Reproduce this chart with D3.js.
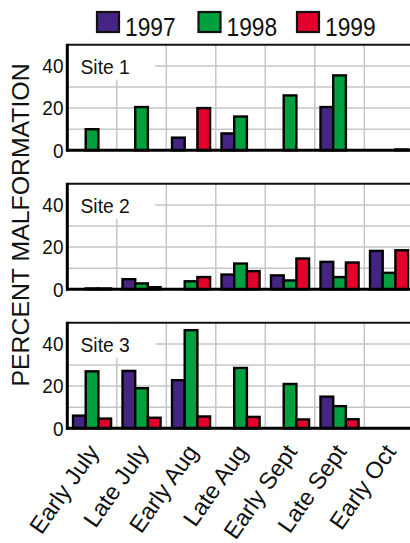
<!DOCTYPE html>
<html><head><meta charset="utf-8">
<script src="https://cdn.jsdelivr.net/npm/d3@7"></script>
<style>body{margin:0;background:#fff}svg{display:block}</style>
</head><body>
<script>
const categories = ["Early July","Late July","Early Aug","Late Aug","Early Sept","Late Sept","Early Oct"];
const years = ["1997","1998","1999"];
const sites = ["Site 1","Site 2","Site 3"];
const site1_1997 = [0, 0, 6, 8, 0, 20.5, 0];
const site1_1998 = [10, 20.5, 0, 16, 26, 35.5, 0];
const site1_1999 = [0, 0, 20, 0, 0, 0, 0.4];
const site2_1997 = [0, 4.8, 0, 7, 6.6, 13, 18.2];
const site2_1998 = [0.4, 2.8, 3.8, 12.2, 4.2, 5.8, 7.8];
const site2_1999 = [0.4, 1, 5.8, 8.6, 14.6, 12.7, 18.5];
const site3_1997 = [6, 27.2, 22.8, 0, 0, 15, 0];
const site3_1998 = [27, 19, 46.5, 28.6, 21, 10.5, 0];
const site3_1999 = [4.6, 5, 5.6, 5.4, 4.2, 4.3, 0];
const yTicks = [0, 20, 40];
const gridTicks = [10, 20, 30, 40];
const colors = ["#452483", "#00a03f", "#e3002b"];

const siteData = [
  [site1_1997, site1_1998, site1_1999],
  [site2_1997, site2_1998, site2_1999],
  [site3_1997, site3_1998, site3_1999]
];

const W = 410, H = 543;
const svg = d3.select("body").append("svg").attr("width", W).attr("height", H);
const font = "Liberation Sans, Arial, Helvetica, sans-serif";

const x0 = 67.3, x1 = 67.3 + 7 * 49.5;
const x = d3.scaleBand().domain(categories).range([x0, x1]).paddingInner(0).paddingOuter(0);
const xi = d3.scaleBand().domain(years).range([0, x.bandwidth()]).paddingInner(0).paddingOuter(0.45);
const zeros = [150.3, 289.3, 428.3];
const ph = 105.5;

sites.forEach((site, si) => {
  const zy = zeros[si];
  const y = d3.scaleLinear().domain([0, 50]).range([zy, zy - ph]);
  const g = svg.append("g");
  // grid
  g.selectAll("line.h").data(gridTicks).join("line")
    .attr("x1", x0).attr("x2", x1).attr("y1", d => y(d)).attr("y2", d => y(d))
    .attr("stroke", "#c6c6c6").attr("stroke-width", 1.5);
  g.selectAll("line.v").data(categories.slice(1)).join("line")
    .attr("x1", d => x(d)).attr("x2", d => x(d)).attr("y1", y(50)).attr("y2", y(0))
    .attr("stroke", "#c6c6c6").attr("stroke-width", 1.5);
  // label box
  g.append("rect").attr("x", x0 + 1).attr("y", y(50) + 1).attr("width", 87).attr("height", 34).attr("fill", "#fff");
  g.append("text").attr("x", 80.5).attr("y", y(50) + 29.3).text(site)
    .attr("font-family", font).attr("font-size", 19.3).attr("fill", "#111");
  // bars
  years.forEach((yr, k) => {
    g.selectAll("rect.b" + k).data(siteData[si][k]).join("rect")
      .attr("x", (d, i) => x(categories[i]) + xi(yr))
      .attr("width", xi.bandwidth())
      .attr("y", d => y(d))
      .attr("height", d => y(0) - y(d))
      .attr("fill", colors[k])
      .attr("stroke", "#000").attr("stroke-width", 2.4)
      .attr("display", d => d > 0 ? null : "none");
  });
  // frame
  g.append("line").attr("x1", x0).attr("x2", x1).attr("y1", y(50)).attr("y2", y(50)).attr("stroke", "#111").attr("stroke-width", 2);
  g.append("line").attr("x1", x0).attr("x2", x1).attr("y1", y(0)).attr("y2", y(0)).attr("stroke", "#000").attr("stroke-width", 3);
  g.append("line").attr("x1", x0).attr("x2", x0).attr("y1", y(50) - 1).attr("y2", y(0) + 1.5).attr("stroke", "#000").attr("stroke-width", 3);
  // y tick labels
  g.selectAll("text.t").data(yTicks).join("text")
    .attr("text-anchor", "end")
    .attr("transform", d => `translate(63.5,${y(d) + 7.3}) scale(1,1.08)`)
    .text(d => d)
    .attr("font-family", font).attr("font-size", 19).attr("fill", "#111");
});

// y axis title
svg.append("text").attr("transform", "translate(28.5,225) rotate(-90) scale(1.08,1)")
  .attr("text-anchor", "middle").text("PERCENT MALFORMATION")
  .attr("font-family", font).attr("font-size", 23).attr("fill", "#111");

// x labels
svg.selectAll("text.xl").data(categories).join("text")
  .attr("text-anchor", "end")
  .attr("transform", d => `translate(${x(d) + x.bandwidth() / 2 + 8},452) rotate(-55)`)
  .text(d => d)
  .attr("font-family", font).attr("font-size", 23.5).attr("fill", "#111");

// legend
const lx = [97, 198.5, 297];
years.forEach((yr, k) => {
  svg.append("rect").attr("x", lx[k]).attr("y", 12).attr("width", 22).attr("height", 20)
    .attr("fill", colors[k]).attr("stroke", "#111").attr("stroke-width", 2.2);
  svg.append("text").attr("transform", `translate(${lx[k] + 28},35.8) scale(1,1.16)`).text(yr)
    .attr("font-family", font).attr("font-size", 22.8).attr("fill", "#111");
});
</script>
</body></html>
